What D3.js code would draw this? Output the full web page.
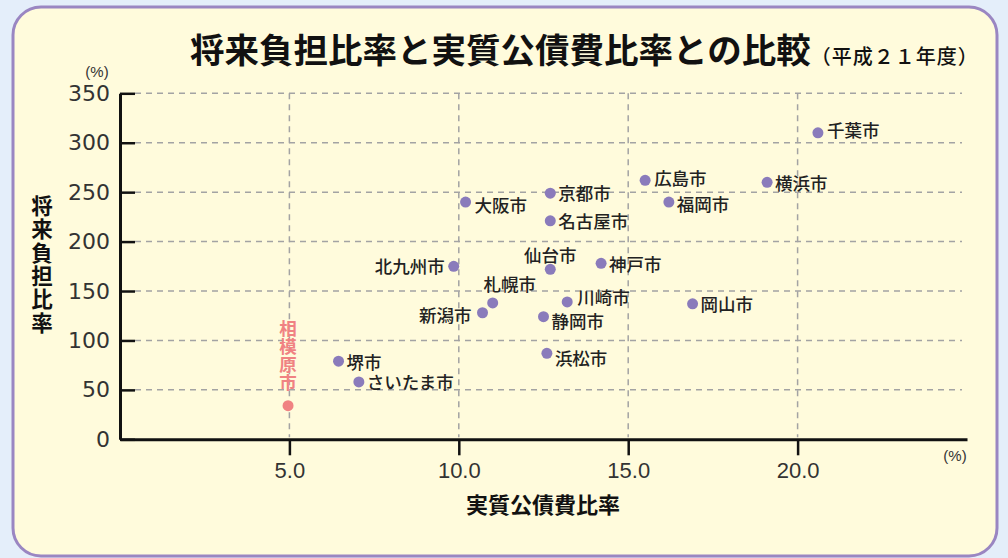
<!DOCTYPE html>
<html>
<head>
<meta charset="utf-8">
<script src="https://cdn.jsdelivr.net/npm/d3@7"></script>
<style>
  html, body { margin: 0; padding: 0; background: #e4eefa; }
  svg { display: block; }
</style>
</head>
<body>
<div id="chart"></div>
<script>
// ── 将来負担比率と実質公債費比率との比較 (平成21年度) ─────────

const cities = ['千葉市', '横浜市', '広島市', '福岡市', '京都市', '大阪市', '名古屋市',
    '仙台市', '神戸市', '北九州市', '札幌市', '新潟市', '川崎市', '静岡市', '岡山市',
    '浜松市', '堺市', 'さいたま市', '相模原市'];
// 実質公債費比率 (%)
const debtServiceRatio = [20.6, 19.1, 15.5, 16.2, 12.7, 10.2, 12.7,
    12.7, 14.2, 9.85, 11.0, 10.7, 13.2, 12.5, 16.9,
    12.6, 6.45, 7.05, 4.96];
// 将来負担比率 (%)
const futureBurdenRatio = [310, 260, 262, 240, 249, 240, 221,
    172, 178, 175, 138, 128, 139, 124, 137,
    87, 79, 58, 34];

const xTicks = [5, 10, 15, 20];
const yTicks = [0, 50, 100, 150, 200, 250, 300, 350];
const highlight = '相模原市';

// label placement: [anchor, dx, dy]
const labelPlace = {
    '仙台市': ['middle', 0, -14],
    '北九州市': ['end', -9, 0],
    '札幌市': ['middle', 17, -18],
    '新潟市': ['end', -11, 3],
    '大阪市': ['start', 9, 4],
    '静岡市': ['start', 8, 5],
    '浜松市': ['start', 8, 5],
    '川崎市': ['start', 10, -4],
    '福岡市': ['start', 8, 3],
    '広島市': ['start', 9, -2],
    '千葉市': ['start', 9, -2]
};

const W = 1008, H = 558;
const jp = "'Noto Sans CJK JP', 'Noto Sans', sans-serif";

const svg = d3.select('#chart').append('svg')
    .attr('width', W)
    .attr('height', H);

// Panel
svg.append('rect')
    .attr('x', 13).attr('y', 7)
    .attr('width', 984).attr('height', 549)
    .attr('rx', 28).attr('ry', 28)
    .attr('fill', '#fffbdc')
    .attr('stroke', '#9a86c2')
    .attr('stroke-width', 3);

// Title
const title = svg.append('text')
    .attr('x', 190).attr('y', 63)
    .attr('font-family', jp)
    .attr('fill', '#111');
title.append('tspan')
    .attr('font-size', 34.5).attr('font-weight', 700)
    .text('将来負担比率と実質公債費比率との比較');
title.append('tspan')
    .attr('font-size', 20).attr('font-weight', 500)
    .attr('letter-spacing', 1)
    .attr('dy', 1)
    .text('（平成２１年度）');

const x = d3.scaleLinear().domain([0, 25]).range([120, 967]);
const y = d3.scaleLinear().domain([0, 350]).range([439.3, 93.3]);

// Gridlines
const grid = svg.append('g')
    .attr('stroke', '#a3a3a3')
    .attr('stroke-width', 1.5)
    .attr('stroke-dasharray', '6,5');
grid.selectAll('line.h')
    .data(yTicks.filter(d => d > 0))
    .join('line')
    .attr('class', 'h')
    .attr('x1', 135).attr('x2', 962)
    .attr('y1', d => y(d)).attr('y2', d => y(d));
grid.selectAll('line.v')
    .data(xTicks)
    .join('line')
    .attr('class', 'v')
    .attr('x1', d => x(d)).attr('x2', d => x(d))
    .attr('y1', y(350)).attr('y2', y(0) - 2);

// Y axis
const yAxis = svg.append('g')
    .attr('transform', `translate(${x(0)},0)`)
    .call(d3.axisLeft(y).tickValues(yTicks).tickSize(-15).tickSizeOuter(0).tickPadding(10));
yAxis.selectAll('text')
    .attr('font-family', "'DejaVu Sans', sans-serif")
    .attr('font-size', 22)
    .attr('fill', '#333');

// X axis
const xAxis = svg.append('g')
    .attr('transform', `translate(0,${y(0)})`)
    .call(d3.axisBottom(x).tickValues(xTicks).tickSize(16).tickSizeOuter(0)
        .tickPadding(7).tickFormat(d3.format('.1f')));
xAxis.selectAll('text')
    .attr('font-family', "'Liberation Sans Narrow', 'Arial Narrow', sans-serif")
    .attr('font-size', 22)
    .attr('fill', '#333');

[yAxis, xAxis].forEach(a => {
    a.select('.domain').attr('stroke', '#111').attr('stroke-width', 3);
    a.selectAll('.tick line').attr('stroke', '#111').attr('stroke-width', 2.5);
});

// Unit labels
svg.append('text')
    .attr('x', 97).attr('y', 77)
    .attr('text-anchor', 'middle')
    .attr('font-family', "'Liberation Sans Narrow', sans-serif")
    .attr('font-size', 15)
    .attr('fill', '#333')
    .text('(%)');
svg.append('text')
    .attr('x', 955).attr('y', 461)
    .attr('text-anchor', 'middle')
    .attr('font-family', "'Liberation Sans Narrow', sans-serif")
    .attr('font-size', 15)
    .attr('fill', '#333')
    .text('(%)');

// Axis titles
svg.append('text')
    .attr('x', 543).attr('y', 513)
    .attr('text-anchor', 'middle')
    .attr('font-family', jp)
    .attr('font-size', 22)
    .attr('font-weight', 700)
    .attr('fill', '#111')
    .text('実質公債費比率');

// vertical y title
svg.append('text')
    .attr('x', 42)
    .attr('y', 265)
    .attr('text-anchor', 'middle')
    .style('writing-mode', 'vertical-rl')
    .attr('letter-spacing', 1.8)
    .attr('font-family', jp)
    .attr('font-size', 21.5)
    .attr('font-weight', 700)
    .attr('fill', '#111')
    .text('将来負担比率');

// Points
const data = cities.map((c, i) => ({ city: c, x: debtServiceRatio[i], y: futureBurdenRatio[i] }));

svg.append('g')
    .selectAll('circle')
    .data(data)
    .join('circle')
    .attr('cx', d => x(d.x))
    .attr('cy', d => y(d.y))
    .attr('r', 5.5)
    .attr('fill', d => d.city === highlight ? '#f08282' : '#8a7bbb');

// City labels
svg.append('g')
    .selectAll('text')
    .data(data.filter(d => d.city !== highlight))
    .join('text')
    .attr('x', d => x(d.x) + (labelPlace[d.city] ? labelPlace[d.city][1] : 8))
    .attr('y', d => y(d.y) + (labelPlace[d.city] ? labelPlace[d.city][2] : 1))
    .attr('dy', '0.36em')
    .attr('text-anchor', d => labelPlace[d.city] ? labelPlace[d.city][0] : 'start')
    .attr('font-family', jp)
    .attr('font-size', 17.5)
    .attr('font-weight', 500)
    .attr('fill', '#222')
    .text(d => d.city);

// Highlighted city: vertical label above the point
const hl = data.find(d => d.city === highlight);
svg.append('text')
    .attr('x', x(hl.x))
    .attr('y', y(hl.y) - 50)
    .attr('text-anchor', 'middle')
    .style('writing-mode', 'vertical-rl')
    .attr('letter-spacing', 0.5)
    .attr('font-family', jp)
    .attr('font-size', 17.5)
    .attr('font-weight', 700)
    .attr('fill', '#f08282')
    .text(hl.city);
</script>
</body>
</html>
